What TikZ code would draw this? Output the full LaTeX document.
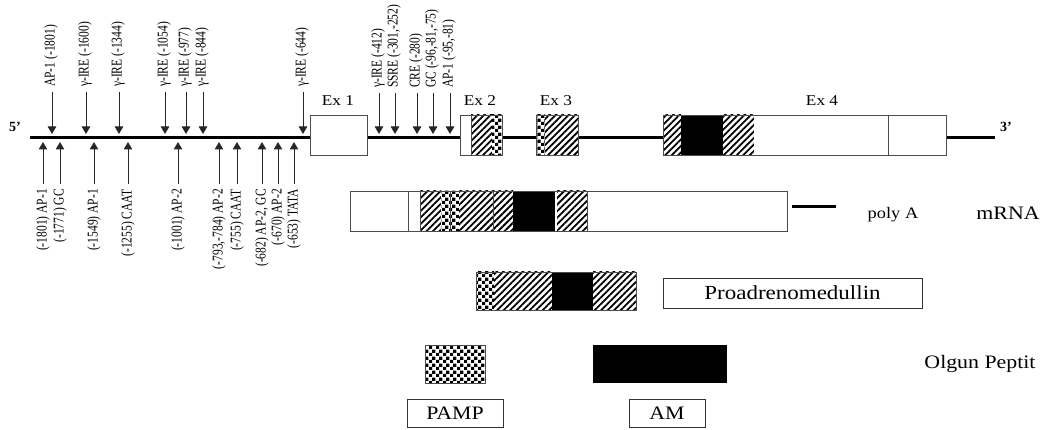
\documentclass[tikz,border=0pt]{standalone}
\usepackage{fontspec}
\setmainfont{Liberation Serif}
\usepackage{graphicx}
\usetikzlibrary{arrows.meta, patterns.meta}
\newcommand{\hstr}[1]{\scalebox{1.15}[1]{#1}}
\newcommand{\tall}[1]{\scalebox{1}[1.3]{#1}}
\tikzdeclarepattern{
  name=checks, type=uncolored,
  bounding box={(0pt,0pt) and (6.6pt,6.6pt)},
  tile size={(6.6pt,6.6pt)},
  code={\fill (0pt,0pt) rectangle (3.3pt,3.3pt); \fill (3.3pt,3.3pt) rectangle (6.6pt,6.6pt);}
}
\tikzset{
  dna/.style    ={line width=3pt},
  exon/.style   ={draw=black!70, line width=0.8pt},
  plain/.style  ={fill=white},
  hatch/.style  ={fill=white, postaction={pattern={Lines[angle=45,distance=4.6pt,line width=1.8pt]}}},
  chk/.style    ={fill=white, postaction={pattern=checks}},
  blk/.style    ={fill=black},
  site/.style   ={-{Triangle[length=7.5pt,width=8.5pt]}, line width=1pt, black!85},
  toplbl/.style ={rotate=90, anchor=west, inner xsep=5pt, inner ysep=1pt, font=\fontsize{11.5}{12}\selectfont},
  botlbl/.style ={rotate=90, anchor=east, inner xsep=5pt, inner ysep=1pt, font=\fontsize{11.5}{12}\selectfont},
  exlbl/.style  ={font=\fontsize{15}{17}\selectfont},
  endlbl/.style ={font=\fontsize{14}{16}\selectfont\bfseries},
  namebox/.style={draw=black!80, line width=0.8pt, inner sep=0pt, font=\fontsize{19}{21}\selectfont},
  sidelbl/.style={font=\fontsize{19}{21}\selectfont},
}

\begin{document}
\begin{tikzpicture}[x=1pt, y=-1pt]
  \useasboundingbox (0,0) rectangle (1052,430);

  % --- gene ---
  \node[endlbl] (p5) at (15,127) {5'};
  \node[endlbl] (p3) at (1006,127) {3'};
  \coordinate (g5) at (30,138);
  \coordinate (g3) at (995,138);
  \draw[dna] (g5) -- (g3);

  % exon 1
  \path[plain] (310,115) rectangle (367,155);
  \draw[exon] (310,115) rectangle (367,155);
  % exon 2
  \path[plain] (460,115) rectangle (471,155);
  \path[hatch] (471,115) rectangle (492,155);
  \path[chk]   (492,115) rectangle (502,155);
  \draw[exon] (471,115) -- (471,155);
  \draw[exon] (460,115) rectangle (502,155);
  % exon 3
  \path[chk]   (536,115) rectangle (545,155);
  \path[hatch] (545,115) rectangle (578,155);
  \draw[exon] (536,115) rectangle (578,155);
  % exon 4
  \path[hatch] (663,115) rectangle (681,155);
  \path[blk]   (681,115) rectangle (723,155);
  \path[hatch] (723,115) rectangle (754,155);
  \path[plain] (754,115) rectangle (946,155);
  \draw[exon] (888,115) -- (888,155);
  \draw[exon] (663,115) rectangle (946,155);

  \node[exlbl] (ex1) at (338,101) {\hstr{Ex 1}};
  \node[exlbl] (ex2) at (480,101) {\hstr{Ex 2}};
  \node[exlbl] (ex3) at (556,101) {\hstr{Ex 3}};
  \node[exlbl] (ex4) at (822,101) {\hstr{Ex 4}};

  % --- sites above ---
  \node[toplbl] (u1)  at (51,92)  {\tall{AP-1 (-1801)}};
  \node[toplbl] (u2)  at (85,92)  {\tall{γ-IRE (-1600)}};
  \node[toplbl] (u3)  at (118,92) {\tall{γ-IRE (-1344)}};
  \node[toplbl] (u4)  at (164,92) {\tall{γ-IRE (-1054)}};
  \node[toplbl] (u5)  at (185,92) {\tall{γ-IRE (-977)}};
  \node[toplbl] (u6)  at (202,92) {\tall{γ-IRE (-844)}};
  \node[toplbl] (u7)  at (302,92) {\tall{γ-IRE (-644)}};
  \node[toplbl] (u8)  at (378,93) {\tall{γ-IRE (-412)}};
  \node[toplbl] (u9)  at (394,93) {\tall{SSRE (-301,-252)}};
  \node[toplbl] (u10) at (416,93) {\tall{CRE (-280)}};
  \node[toplbl] (u11) at (432,93) {\tall{GC (-96,-81,-75)}};
  \node[toplbl] (u12) at (449,93) {\tall{AP-1 (-95,-81)}};
  \coordinate (a1)  at (52,134);
  \coordinate (a2)  at (86,134);
  \coordinate (a3)  at (119,134);
  \coordinate (a4)  at (165,134);
  \coordinate (a5)  at (186,134);
  \coordinate (a6)  at (203,134);
  \coordinate (a7)  at (303,134);
  \coordinate (a8)  at (379,134);
  \coordinate (a9)  at (395,134);
  \coordinate (a10) at (417,134);
  \coordinate (a11) at (433,134);
  \coordinate (a12) at (450,134);
  \draw[site] (u1.west -| a1) -- (a1);
  \draw[site] (u2.west -| a2) -- (a2);
  \draw[site] (u3.west -| a3) -- (a3);
  \draw[site] (u4.west -| a4) -- (a4);
  \draw[site] (u5.west -| a5) -- (a5);
  \draw[site] (u6.west -| a6) -- (a6);
  \draw[site] (u7.west -| a7) -- (a7);
  \draw[site] (u8.west -| a8) -- (a8);
  \draw[site] (u9.west -| a9) -- (a9);
  \draw[site] (u10.west -| a10) -- (a10);
  \draw[site] (u11.west -| a11) -- (a11);
  \draw[site] (u12.west -| a12) -- (a12);

  % --- sites below ---
  \node[botlbl] (d1)  at (43,184)  {\tall{(-1801) AP-1}};
  \node[botlbl] (d2)  at (60,184)  {\tall{(-1771) GC}};
  \node[botlbl] (d3)  at (94,184)  {\tall{(-1549) AP-1}};
  \node[botlbl] (d4)  at (128,184) {\tall{(-1255) CAAT}};
  \node[botlbl] (d5)  at (178,184) {\tall{(-1001) AP-2}};
  \node[botlbl] (d6)  at (219,184) {\tall{(-793,-784) AP-2}};
  \node[botlbl] (d7)  at (237,184) {\tall{(-755) CAAT}};
  \node[botlbl] (d8)  at (262,184) {\tall{(-682) AP-2, GC}};
  \node[botlbl] (d9)  at (278,184) {\tall{(-670) AP-2}};
  \node[botlbl] (d10) at (294,184) {\tall{(-653) TATA}};
  \coordinate (b1)  at (43,142);
  \coordinate (b2)  at (60,142);
  \coordinate (b3)  at (94,142);
  \coordinate (b4)  at (128,142);
  \coordinate (b5)  at (178,142);
  \coordinate (b6)  at (219,142);
  \coordinate (b7)  at (237,142);
  \coordinate (b8)  at (262,142);
  \coordinate (b9)  at (278,142);
  \coordinate (b10) at (294,142);
  \draw[site] (d1.east) -- (b1);
  \draw[site] (d2.east) -- (b2);
  \draw[site] (d3.east) -- (b3);
  \draw[site] (d4.east) -- (b4);
  \draw[site] (d5.east) -- (b5);
  \draw[site] (d6.east) -- (b6);
  \draw[site] (d7.east) -- (b7);
  \draw[site] (d8.east) -- (b8);
  \draw[site] (d9.east) -- (b9);
  \draw[site] (d10.east) -- (b10);

  % --- mRNA ---
  \path[plain] (350,191) rectangle (787,231);
  \path[hatch] (420,191) rectangle (441,231);
  \path[chk]   (441,191) rectangle (459,231);
  \path[hatch] (459,191) rectangle (513,231);
  \path[blk]   (513,191) rectangle (555,231);
  \path[hatch] (557,191) rectangle (587,231);
  \draw[exon] (408,191) -- (408,231);
  \draw[exon] (420,191) -- (420,231);
  \draw[exon] (450,191) -- (450,231);
  \draw[exon] (493,191) -- (493,231);
  \draw[exon] (587,191) -- (587,231);
  \draw[exon] (350,191) rectangle (787,231);
  \coordinate (pa1) at (792,207);
  \coordinate (pa2) at (836,207);
  \draw[dna] (pa1) -- (pa2);
  \node[sidelbl, font=\fontsize{16}{18}\selectfont] (polyA) at (893,215) {\hstr{poly A}};
  \node[sidelbl] (mrna) at (1008,213) {\hstr{mRNA}};

  % --- proadrenomedullin ---
  \path[chk]   (476,272) rectangle (494,310);
  \path[hatch] (494,272) rectangle (552,310);
  \path[blk]   (552,272) rectangle (593,310);
  \path[hatch] (593,272) rectangle (636,310);
  \draw[exon] (476,272) rectangle (636,310);
  \node[namebox, font=\fontsize{20}{22}\selectfont, minimum width=259pt, minimum height=30pt] (pro) at (792.5,293) {\hstr{Proadrenomedullin}};

  % --- mature peptides ---
  \path[chk] (425,345) rectangle (485,383);
  \draw[exon] (425,345) rectangle (485,383);
  \path[blk] (593,345) rectangle (727,383);
  \node[sidelbl] (olgun) at (980,364) {\hstr{Olgun Peptit}};
  \node[namebox, minimum width=96pt, minimum height=28pt] (pamp) at (455,413.5) {\hstr{PAMP}};
  \node[namebox, minimum width=76pt, minimum height=28pt] (am) at (667,413.5) {\hstr{AM}};
\end{tikzpicture}
\end{document}
